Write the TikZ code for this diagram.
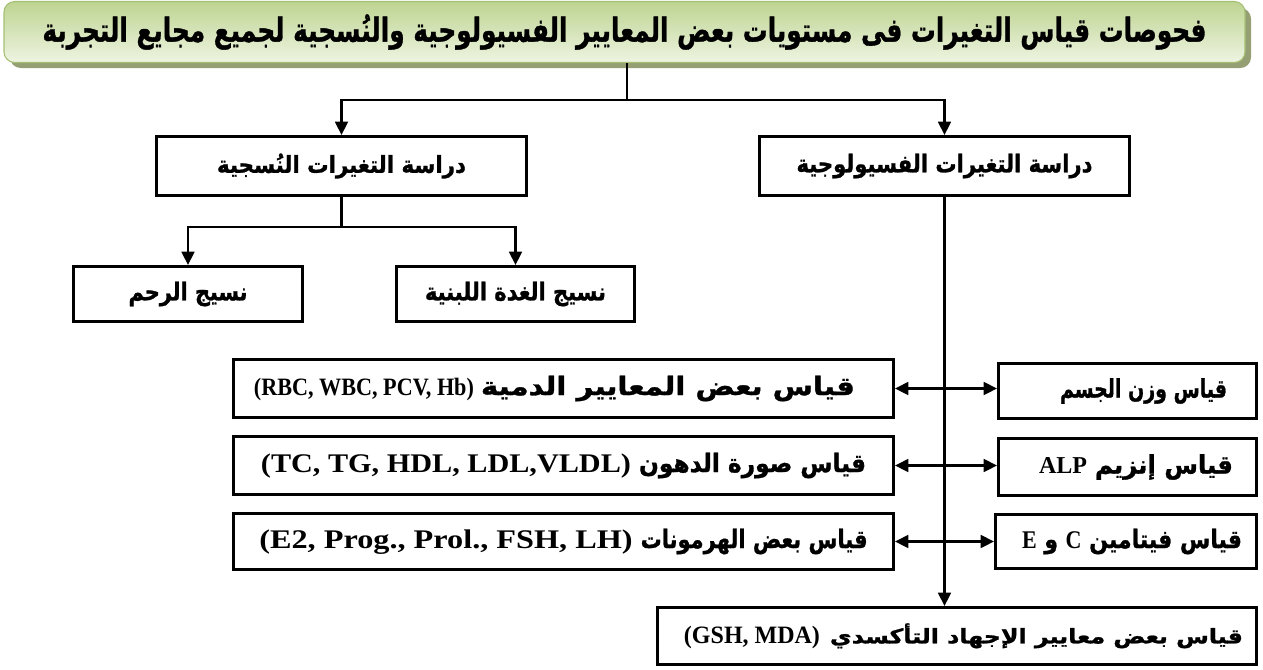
\documentclass[tikz,border=0pt]{standalone}
\usepackage{fontspec}
\usetikzlibrary{arrows.meta}
\TeXXeTstate=1
\newfontfamily\arabicfont[Script=Arabic, FakeBold=1.2]{DejaVu Sans Bold}
\newfontfamily\latinfont{Liberation Serif}
\newcommand{\lattxt}[1]{{\latinfont\bfseries\beginL #1\endL}}
\newcommand{\arfit}[3]{\resizebox{#1}{#2}{\arabicfont #3}}
\newcommand{\latfit}[3]{\resizebox{#1}{#2}{\lattxt{#3}}}
\definecolor{tgtop}{RGB}{190,212,145}
\definecolor{tgbot}{RGB}{238,244,226}
\definecolor{tgshadow}{RGB}{148,160,116}
\definecolor{tgborder}{RGB}{165,192,115}
\begin{document}
\begin{tikzpicture}[x=0.75pt,y=-0.75pt,
  box/.style 2 args={draw=black, line width=2.2pt, fill=white, inner sep=0pt,
    minimum width=#1*0.75pt, minimum height=#2*0.75pt},
  titlebox/.style={draw=tgborder, line width=0.8pt, rounded corners=8pt,
    top color=tgtop, bottom color=tgbot, inner sep=0pt,
    minimum width=1241*0.75pt, minimum height=61*0.75pt},
  conn/.style={line width=2pt},
  arr/.style={conn, -{Triangle[length=10pt,width=9.5pt]}}]
\useasboundingbox (0,0) rectangle (1263,669);
% title
\fill[tgshadow, rounded corners=8pt] (10,8) rectangle (1251,68);
\node[titlebox] (title) at (624.5,32)
  {\arfit{873pt}{20.5pt}{\beginR فحوصات قياس التغيرات فى مستويات بعض المعايير الفسيولوجية والنُسجية لجميع مجايع التجربة\endR}};
% level 1
\node[box={370}{59}] (tissue) at (341.5,166)
  {\arfit{186.75pt}{14.5pt}{\beginR دراسة التغيرات النُسجية\endR}};
\node[box={370}{59}] (physio) at (944.5,166)
  {\arfit{222pt}{14pt}{\beginR دراسة التغيرات الفسيولوجية\endR}};
% level 2
\node[box={229}{55}] (uterus) at (188,294)
  {\arfit{89.25pt}{14pt}{\beginR نسيج الرحم\endR}};
\node[box={238}{55}] (mammary) at (515.5,294)
  {\arfit{135.75pt}{14pt}{\beginR نسيج الغدة اللبنية\endR}};
% rows
\node[box={660}{58}] (r1l) at (563.5,388.5)
  {\latfit{165pt}{13pt}{(RBC, WBC, PCV, Hb)}\hspace*{5.25pt}\arfit{280.5pt}{14.5pt}{\beginR قياس بعض المعايير الدمية\endR}\hspace*{13.5pt}};
\node[box={660}{58}] (r2l) at (563.5,465.5)
  {\latfit{277.5pt}{14pt}{(TC, TG, HDL, LDL,VLDL)}\hspace*{6pt}\arfit{170.25pt}{14.5pt}{\beginR قياس صورة الدهون\endR}};
\node[box={660}{56}] (r3l) at (563.5,541.5)
  {\latfit{280pt}{14pt}{(E2, Prog., Prol., FSH, LH)}\hspace*{6pt}\arfit{170.25pt}{14.5pt}{\beginR قياس بعض الهرمونات\endR}};
\node[box={258}{55}] (r1r) at (1127.5,391)
  {\hspace*{24pt}\arfit{125.25pt}{14.5pt}{\beginR قياس وزن الجسم\endR}};
\node[box={258}{57}] (r2r) at (1127.5,467)
  {\hspace*{12.75pt}\latfit{36pt}{12pt}{ALP}\hspace*{6pt}\arfit{103.5pt}{14.5pt}{\beginR قياس إنزيم\endR}};
\node[box={261}{54}] (r3r) at (1126,541.5)
  {\hspace*{9pt}\arfit{165pt}{14.5pt}{\beginR قياس فيتامين \lattxt{C} و \lattxt{E}\endR}};
\node[box={599}{57}] (gsh) at (957,636)
  {\hspace*{9.75pt}\latfit{102pt}{13pt}{(GSH, MDA)}\hspace*{7.5pt}\arfit{309.75pt}{15pt}{\beginR قياس بعض معايير الإجهاد التأكسدي\endR}};
% connectors
\coordinate (j1) at (627,100);
\draw[conn] (title.south -| j1) -- (j1);
\draw[arr] (j1) -| (tissue.north);
\draw[arr] (j1) -| (physio.north);
\coordinate (j2) at (341.5,227);
\draw[conn] (tissue.south) -- (j2);
\draw[arr] (j2) -| (uterus.north);
\draw[arr] (j2) -| (mammary.north);
\draw[arr] (physio.south) -- (physio.south |- gsh.north);
\foreach \l/\r in {r1l/r1r, r2l/r2r, r3l/r3r}{
  \draw[arr] (physio.south |- \l.east) -- (\l.east);
  \draw[arr] (physio.south |- \l.east) -- (\r.west |- \l.east);
}
\end{tikzpicture}
\end{document}
